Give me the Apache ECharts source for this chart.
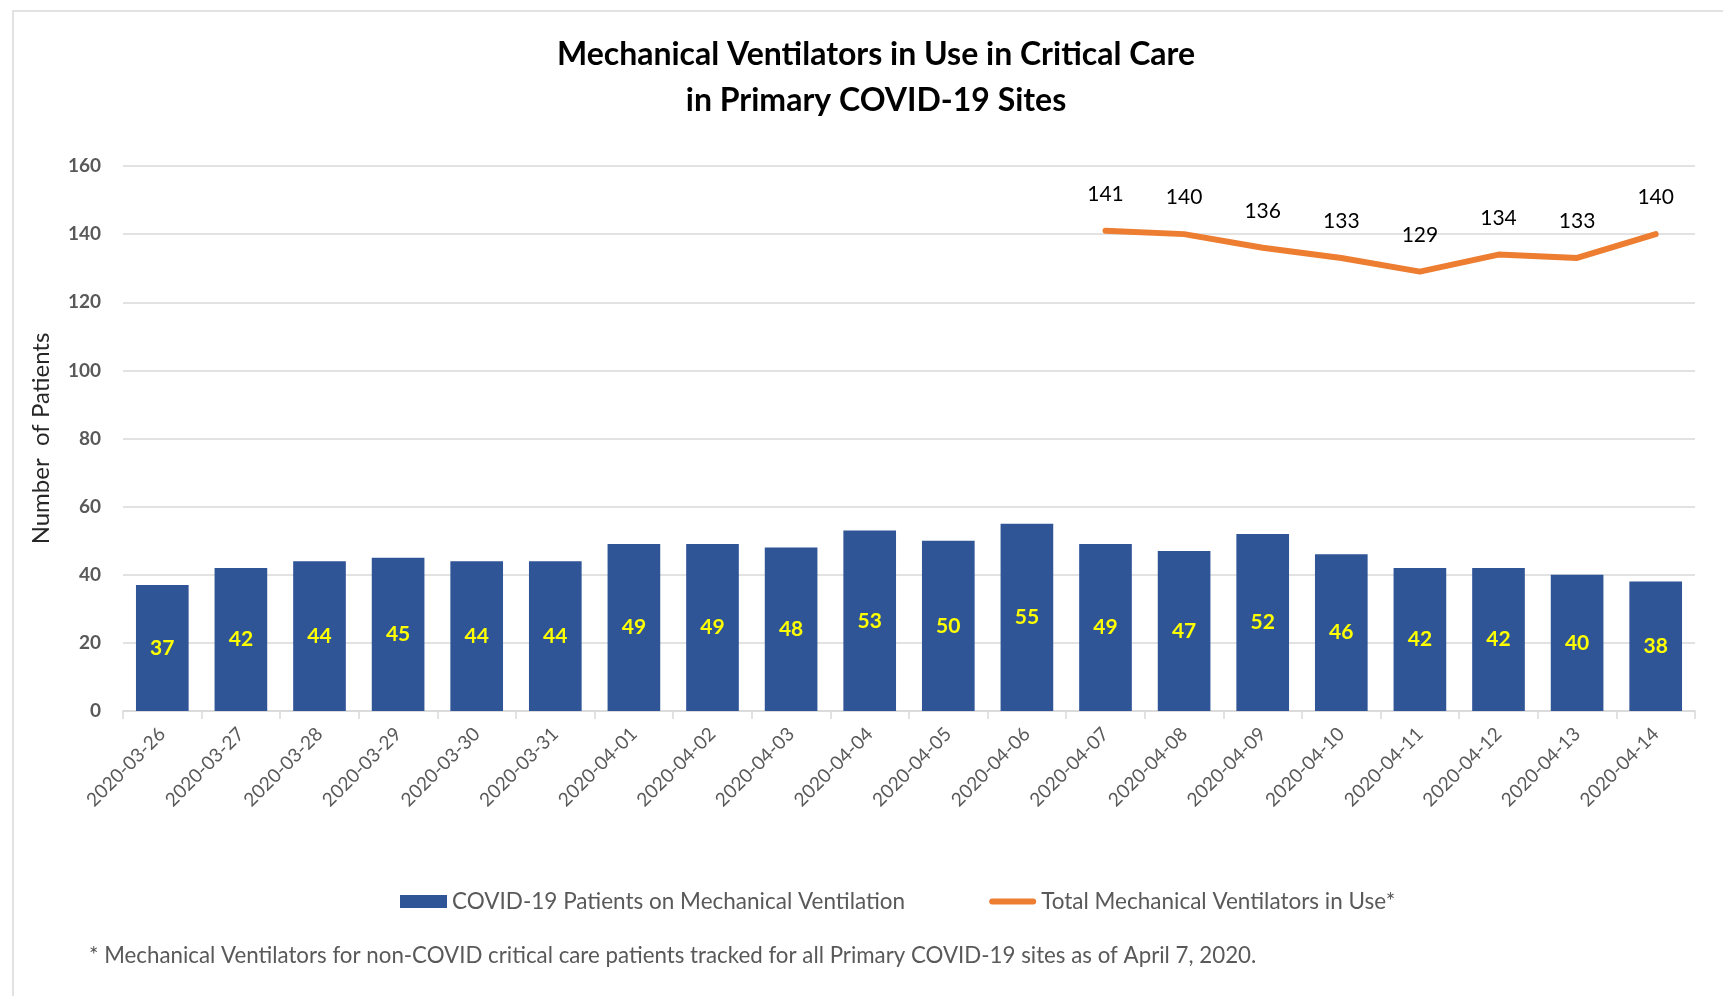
<!DOCTYPE html>
<html>
<head>
<meta charset="utf-8">
<script src="https://cdn.jsdelivr.net/npm/echarts@6/dist/echarts.min.js"></script>
<style>
  html, body { margin: 0; padding: 0; background: #fff; }
  #chart { width: 1723px; height: 996px; }
</style>
</head>
<body>
<div id="chart"></div>
<script>
const dates = [
  '2020-03-26', '2020-03-27', '2020-03-28', '2020-03-29', '2020-03-30',
  '2020-03-31', '2020-04-01', '2020-04-02', '2020-04-03', '2020-04-04',
  '2020-04-05', '2020-04-06', '2020-04-07', '2020-04-08', '2020-04-09',
  '2020-04-10', '2020-04-11', '2020-04-12', '2020-04-13', '2020-04-14'
]
const covidOnVent = [37, 42, 44, 45, 44, 44, 49, 49, 48, 53, 50, 55, 49, 47, 52, 46, 42, 42, 40, 38]
// total only tracked from 2020-04-07
const totalVents = [null, null, null, null, null, null, null, null, null, null, null, null,
  141, 140, 136, 133, 129, 134, 133, 140]
const yTicks = { min: 0, max: 160, step: 20 }

const font = 'Lato, "Open Sans", sans-serif'
const grey = '#595959'

const chart = echarts.init(document.getElementById('chart'))
chart.setOption({
  animation: false,
  textStyle: { fontFamily: font },
  title: [
    {
      text: 'Mechanical Ventilators in Use in Critical Care\nin Primary COVID-19 Sites',
      left: 871,
      top: 27,
      textAlign: 'center',
      textStyle: { fontFamily: font, fontSize: 32, fontWeight: 'bold', color: '#000', lineHeight: 46 }
    },
    {
      text: '* Mechanical Ventilators for non-COVID critical care patients tracked for all Primary COVID-19 sites as of April 7, 2020.',
      left: 84,
      top: 940,
      textStyle: { fontFamily: font, fontSize: 22.3, fontWeight: 'normal', color: grey }
    }
  ],
  graphic: [
    {
      type: 'rect',
      shape: { x: 13, y: 11, width: 1760, height: 1040 },
      style: { fill: 'none', stroke: '#d9d9d9', lineWidth: 1.5 },
      silent: true
    }
  ],
  legend: {
    left: 395,
    top: 885,
    itemWidth: 47,
    itemHeight: 13,
    itemGap: 84,
    textStyle: { fontFamily: font, fontSize: 22.5, color: grey },
    data: [
      { name: 'COVID-19 Patients on Mechanical Ventilation', icon: 'rect' },
      { name: 'Total Mechanical Ventilators in Use*', icon: 'path://M3,0h41a3,3 0 0 1 0,6h-41a3,3 0 0 1 0,-6z', itemStyle: { color: '#ed7d31' } }
    ]
  },
  grid: { left: 123, right: 28, top: 166, bottom: 285 },
  xAxis: {
    type: 'category',
    data: dates,
    axisLine: { lineStyle: { color: '#d9d9d9', width: 1.5 } },
    axisTick: { show: true, length: 8, lineStyle: { color: '#d9d9d9', width: 1.5 } },
    axisLabel: { rotate: 45, margin: 20, fontSize: 19, color: grey, fontFamily: font }
  },
  yAxis: {
    type: 'value',
    name: 'Number  of Patients',
    nameLocation: 'middle',
    nameGap: 70,
    nameTextStyle: { fontFamily: font, fontSize: 24, color: '#262626' },
    min: yTicks.min,
    max: yTicks.max,
    interval: yTicks.step,
    axisLine: { show: false },
    axisTick: { show: false },
    axisLabel: { margin: 22, fontSize: 19, fontWeight: 'bold', color: grey, fontFamily: font },
    splitLine: { lineStyle: { color: '#d9d9d9', width: 1.5 } }
  },
  series: [
    {
      name: 'COVID-19 Patients on Mechanical Ventilation',
      type: 'bar',
      data: covidOnVent,
      barCategoryGap: '33%',
      itemStyle: { color: '#2f5597' },
      label: {
        show: true,
        position: 'inside',
        fontFamily: font,
        fontSize: 21,
        fontWeight: 'bold',
        color: '#ffff00'
      }
    },
    {
      name: 'Total Mechanical Ventilators in Use*',
      type: 'line',
      data: totalVents,
      symbol: 'circle',
      symbolSize: 0.1,
      lineStyle: { color: '#ed7d31', width: 6, cap: 'round', join: 'round' },
      itemStyle: { color: '#ed7d31' },
      label: {
        show: true,
        position: 'top',
        distance: 26,
        fontFamily: font,
        fontSize: 21,
        color: '#000'
      }
    }
  ]
})
</script>
</body>
</html>
